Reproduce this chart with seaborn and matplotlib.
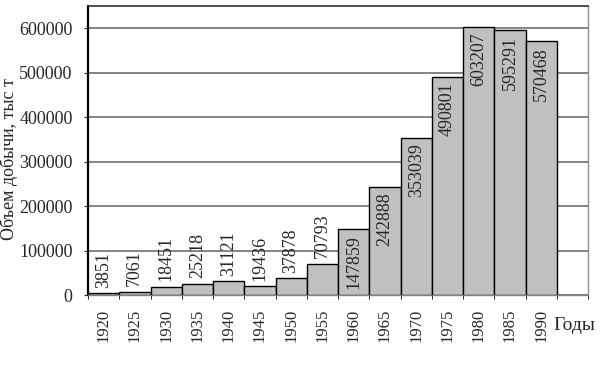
import matplotlib
matplotlib.use("Agg")
import matplotlib.pyplot as plt
import seaborn as sns
import pandas as pd
from matplotlib.ticker import MultipleLocator, FixedLocator

years = ["1920", "1925", "1930", "1935", "1940", "1945", "1950", "1955",
         "1960", "1965", "1970", "1975", "1980", "1985", "1990"]
values = [3851, 7061, 18451, 25218, 31121, 19436, 37878, 70793,
          147859, 242888, 353039, 490801, 603207, 595291, 570468]
ylabel = "Объем добычи, тыс т"
xlabel = "Годы"

sns.set_style("white")
plt.rcParams['font.family'] = ['Liberation Serif', 'DejaVu Serif']

df = pd.DataFrame({"year": years, "value": values})

fig = plt.figure(figsize=(6.04, 3.78), dpi=100)
ax = fig.add_axes([88/604, 1-295/378, 500/604, 289/378])

sns.barplot(data=df, x="year", y="value", order=years, color="#c0c0c0",
            width=1.0, edgecolor="black", linewidth=1.0, saturation=1, ax=ax, zorder=3)

ax.set_xlim(-0.5, len(years) + 0.5)
ax.set_ylim(0, 650000)
ax.yaxis.set_major_locator(MultipleLocator(100000))
ax.yaxis.grid(True, color="#707070", linewidth=1.2, zorder=0)
ax.set_axisbelow(True)

for i, v in enumerate(values):
    if v > 140000:
        ax.annotate(str(v), xy=(i, v), xytext=(0, -4), textcoords="offset points",
                    rotation=90, ha="center", va="top", fontsize=13, zorder=5)
    else:
        ax.annotate(str(v), xy=(i, v), xytext=(0, 4), textcoords="offset points",
                    rotation=90, ha="center", va="bottom", fontsize=13, zorder=5)

ax.tick_params(axis="x", which="major", length=0, labelsize=12, rotation=90, pad=10)
ax.xaxis.set_minor_locator(FixedLocator([i - 0.5 for i in range(len(years) + 2)]))
ax.tick_params(axis="x", which="minor", length=3, direction="out", color="black", bottom=True)
ax.tick_params(axis="y", which="major", length=3, direction="out", labelsize=13, pad=8, left=True)

ax.set_xlabel(xlabel, fontsize=14, ha="left", va="center")
ax.xaxis.set_label_coords(0.93, -0.105)
ax.set_ylabel(ylabel, fontsize=13, va="center")
ax.yaxis.set_label_coords(-0.158, 0.47)

ax.spines["left"].set_color("black")
ax.spines["left"].set_linewidth(1.6)
ax.spines["bottom"].set_color("#808080")
ax.spines["bottom"].set_linewidth(1.0)
ax.spines["top"].set_color("#303030")
ax.spines["top"].set_linewidth(1.2)
ax.spines["right"].set_color("#909090")
ax.spines["right"].set_linewidth(1.0)

fig.savefig("out.png", dpi=100)
